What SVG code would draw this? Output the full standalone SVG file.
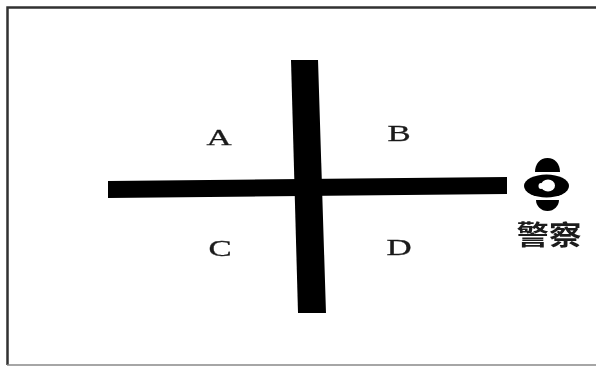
<svg xmlns="http://www.w3.org/2000/svg" width="596" height="366" viewBox="0 0 596 366">
<defs>
<style>
.road{fill:#040404}
.frame{fill:none;stroke:#333;stroke-width:2.5}
.lab{font-family:"Liberation Serif",serif;font-size:24px;fill:#1a1a1a;stroke:#1a1a1a;stroke-width:0.3;text-anchor:middle}
.cn{font-family:"Noto Sans CJK SC","Liberation Sans",sans-serif;font-size:27px;font-weight:700;fill:#1a1a1a;text-anchor:middle}
</style>
<filter id="soft" x="-5%" y="-5%" width="110%" height="110%"><feGaussianBlur stdDeviation="0.7"/></filter>
</defs>
<rect width="596" height="366" fill="#fff"/>
<g filter="url(#soft)">
<g id="connectors">
<path class="frame" d="M7.500 365V7.500H596"/>
<path d="M7 365H596" fill="none" stroke="#888" stroke-width="1.500"/>
</g>
<g id="roads">
<polygon class="road" points="108,181 507,177 507,194 108,198"/>
<polygon class="road" points="291,60 318,60 326,313 298,313"/>
</g>
<g id="zone-a"><text class="lab" transform="translate(219 145) scale(1.450 1)">A</text></g>
<g id="zone-b"><text class="lab" transform="translate(399 141) scale(1.450 1)">B</text></g>
<g id="zone-c"><text class="lab" transform="translate(220 256) scale(1.450 1)">C</text></g>
<g id="zone-d"><text class="lab" transform="translate(399 255) scale(1.450 1)">D</text></g>
<g id="police">
<path class="road" d="M535 172C535 164 540 158 547.500 158C555 158 560 164 560 172Z"/>
<ellipse class="road" cx="546.500" cy="186" rx="22.500" ry="11.500"/>
<ellipse cx="548" cy="185.500" rx="7" ry="6" fill="#fff"/>
<ellipse cx="541" cy="186" rx="2.500" ry="3" fill="#fff"/>
<path class="road" d="M536 200H559C559 206 554 211 547.500 211C541 211 536 206 536 200Z"/>
<text class="cn" transform="translate(549 245) scale(1.200 1)">警察</text>
</g>
</g>
</svg>
